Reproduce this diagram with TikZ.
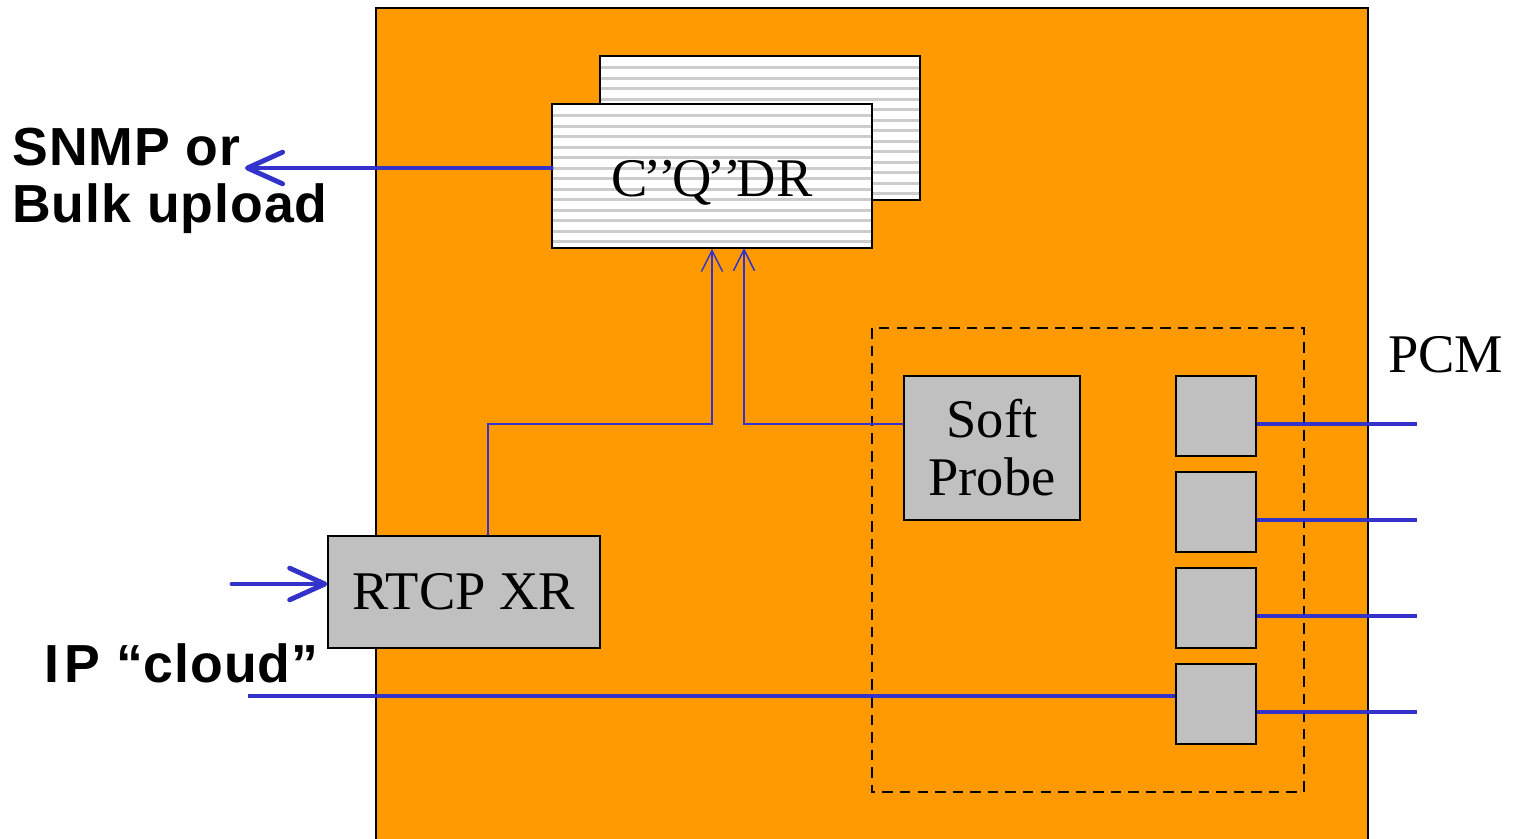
\documentclass[tikz,border=0pt]{standalone}
\usepackage{fontspec}
\setmainfont{Liberation Serif}
\setsansfont{Liberation Sans}
\usetikzlibrary{arrows.meta}
\definecolor{panel}{HTML}{FF9900}
\definecolor{wire}{HTML}{3333CC}
\definecolor{boxgray}{HTML}{C0C0C0}
\definecolor{stripe}{HTML}{CDCDCD}

\begin{document}
\begin{tikzpicture}[x=0.02cm,y=-0.02cm,
  boxfont/.style={font=\fontsize{31}{35}\selectfont},
  labelfont/.style={font=\sffamily\bfseries\fontsize{30.5}{35}\selectfont\addfontfeature{LetterSpace=1.8}},
  graybox/.style={draw=black, fill=boxgray, line width=0.8pt, inner sep=0pt, boxfont, align=center},
  card/.style={draw=black, fill=white, line width=0.9pt, inner sep=0pt,
    minimum width=6.4cm, minimum height=2.88cm, boxfont,
    path picture={
      \foreach \k in {0,...,12}
        \draw[stripe, line width=1.6pt]
          ([yshift=-0.234cm-\k*0.21cm]path picture bounding box.north west) --
          ([yshift=-0.234cm-\k*0.21cm]path picture bounding box.north east);
    }},
  port/.style={graybox, minimum width=1.6cm, minimum height=1.6cm},
  thickwire/.style={wire, line width=2.8pt, line cap=round},
  thinwire/.style={wire, line width=0.85pt},
  bigtip/.style={-{Straight Barb[length=20pt, width=18pt, line width=2.8pt, round]}},
  smalltip/.style={-{Straight Barb[length=12pt, width=12pt, line width=0.85pt]}}
]
\useasboundingbox (0,0) rectangle (1516,839);

% housing
\begin{scope}
  \clip (0,0) rectangle (1516,839);
  \draw[fill=panel, line width=0.9pt] (376,8) rectangle (1368,870);
\end{scope}

% stacked record cards
\node[card] (back) at (760,128) {};
\node[card, text height=23pt, text depth=0pt] (cqdr) at (712,176) {C\kern-2.5pt’\kern-1.5pt’\kern-2.5pt Q\kern-2.5pt’\kern-1.5pt’\kern-2.5pt DR};

% probe area
\draw[dashed, line width=1.2pt, dash pattern=on 6pt off 4pt] (872,328) rectangle (1304,792);
\node[graybox, minimum width=3.52cm, minimum height=2.88cm] (probe) at (992,448) {Soft\\[-2pt]Probe};
\node[port] (p1) at (1216,416) {};
\node[port] (p2) at (1216,512) {};
\node[port] (p3) at (1216,608) {};
\node[port] (p4) at (1216,704) {};

% RTCP XR block
\node[graybox, minimum width=5.44cm, minimum height=2.24cm] (rtcp) at (464,592) {RTCP XR};

% labels
\node[labelfont, anchor=base west, inner sep=0pt] (snmp) at (12,165) {SNMP or};
\node[labelfont, anchor=base west, inner sep=0pt] (bulk) at (12,222) {Bulk upload};
\node[labelfont, anchor=base west, inner sep=0pt] (ip) at (44,682) {I\kern3pt P “cloud”};
\node[boxfont, anchor=base west, inner sep=0pt] (pcm) at (1388,372) {PCM};

% connection points
\coordinate (snmpend) at (245,168);
\coordinate (inA) at (232,584);
\coordinate (ipstart) at (248,696);
\coordinate (jA) at (488,424);
\coordinate (jB) at (744,424);
\coordinate (tipB) at (744,248);

% upload path
\draw[thickwire, bigtip] (snmpend -| cqdr.west) -- (snmpend);

% reports into the record
\draw[thinwire, smalltip] (jA |- rtcp.north) -- (jA) -- (jA -| cqdr.south) -- (cqdr.south);
\draw[thinwire, smalltip] (probe.west |- jB) -- (jB) -- (tipB);

% IP side
\draw[thickwire, bigtip] (inA) -- (rtcp.west |- inA);
\draw[wire, line width=2.8pt] (ipstart) -- (p4.west |- ipstart);

% PCM trunks
\foreach \i in {1,...,4}
  \draw[wire, line width=2.8pt] ([yshift=-0.16cm]p\i.east) -- ++(160,0);
\end{tikzpicture}
\end{document}
